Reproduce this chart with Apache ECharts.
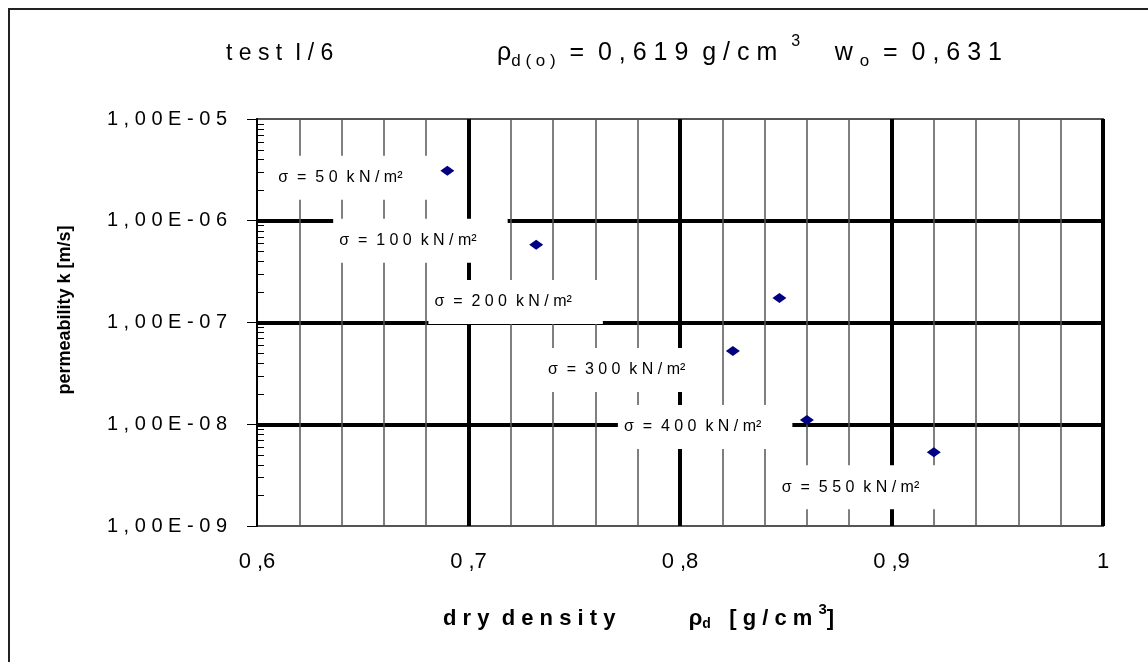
<!DOCTYPE html>
<html><head><meta charset="utf-8">
<script src="https://cdn.jsdelivr.net/npm/echarts@6/dist/echarts.min.js"></script>
<style>html,body{margin:0;padding:0;background:#fff}#c{width:1148px;height:662px}</style>
</head><body><div id="c"></div>
<script>
// ---- data ----
const xTickLabels = ['0,6', '0,7', '0,8', '0,9', '1'];
const yTickExponents = [-9, -8, -7, -6, -5];
const yTickLabels = ['1,00E-09', '1,00E-08', '1,00E-07', '1,00E-06', '1,00E-05'];
const minorMultipliers = [2, 3, 4, 5, 6, 7, 8, 9];
const dryDensity = [0.690, 0.732, 0.847, 0.825, 0.860, 0.920];
const permeability = [3.1e-6, 5.8e-7, 1.74e-7, 5.25e-8, 1.1e-8, 5.3e-9];
const stressLabels = ['σ = 50 kN/m²', 'σ = 100 kN/m²', 'σ = 200 kN/m²', 'σ = 300 kN/m²', 'σ = 400 kN/m²', 'σ = 550 kN/m²'];
const titleLeft = 'test I/6';
const yAxisName = 'permeability k [m/s]';

// ---- helpers ----
const FONT = "'Liberation Sans', Arial, sans-serif";
function spaced(s, gap) {
  gap = gap === undefined ? ' ' : gap;
  return s.split(' ').map(w => {
    const ch = Array.from(w);
    let out = '';
    ch.forEach((c, i) => { out += (i > 0 && c !== '²' ? gap : '') + c; });
    return out;
  }).join(gap + gap);
}

// label placement (layout, relative to each point)
const labelLayout = [[-175, 7], [-203, -4], [-351, 4], [-191, 19], [-189, 7], [-158, 35]];

const chart = echarts.init(document.getElementById('c'), null, { renderer: 'canvas' });

const option = {
  animation: false,
  backgroundColor: '#fff',
  textStyle: { fontFamily: FONT },
  grid: {
    left: 257, top: 119, right: 45, bottom: 136,
    show: true, backgroundColor: '#fff', borderColor: '#555', borderWidth: 2
  },
  xAxis: {
    type: 'value', min: 0.6, max: 1.0, interval: 0.1,
    axisLine: { show: false },
    axisTick: { show: false },
    minorTick: { show: false, splitNumber: 5 },
    splitLine: { show: true, showMinLine: false, showMaxLine: true, lineStyle: { color: '#000', width: 4 } },
    minorSplitLine: { show: true, lineStyle: { color: '#555', width: 1.5 } },
    axisLabel: {
      margin: 25, fontSize: 22, color: '#000', fontFamily: FONT,
      formatter: v => {
        const s = xTickLabels[Math.round((v - 0.6) / 0.1)];
        return s.length > 1 ? s.replace(',', ' ,') : s;
      }
    }
  },
  yAxis: {
    type: 'log', logBase: 10, min: 1e-9, max: 1e-5,
    axisLine: { show: true, onZero: false, lineStyle: { color: '#000', width: 2 } },
    axisTick: { show: true, inside: false, length: 10, lineStyle: { color: '#000', width: 1 } },
    splitLine: { show: true, showMinLine: false, showMaxLine: false, lineStyle: { color: '#000', width: 4 } },
    axisLabel: {
      margin: 30, fontSize: 20, color: '#000', fontFamily: FONT,
      formatter: v => spaced(yTickLabels[yTickExponents.indexOf(Math.round(Math.log10(v)))])
    }
  },
  series: [
    {
      type: 'custom',
      silent: true,
      z: 5,
      encode: { x: 0, y: 1 },
      data: yTickExponents.slice(0, -1).flatMap(e => minorMultipliers.map(m => [0.6, m * Math.pow(10, e)])),
      renderItem: (params, api) => {
        const p = api.coord([api.value(0), api.value(1)]);
        return {
          type: 'line',
          shape: { x1: p[0], y1: Math.round(p[1]) + 0.5, x2: p[0] + 7, y2: Math.round(p[1]) + 0.5 },
          style: { stroke: '#000', lineWidth: 1 }
        };
      }
    },
    {
      type: 'scatter',
      symbol: 'diamond',
      symbolSize: [14, 10],
      itemStyle: { color: '#000080', opacity: 1 },
      z: 4,
      data: dryDensity.map((x, i) => ({
        value: [x, permeability[i]],
        label: {
          show: true,
          position: 'inside',
          align: 'left',
          verticalAlign: 'middle',
          offset: labelLayout[i],
          formatter: spaced(stressLabels[i]),
          fontSize: 16,
          fontFamily: FONT,
          color: '#000',
          opacity: 1,
          backgroundColor: '#ffffff',
          padding: [15, 31, 13, 6]
        }
      }))
    }
  ],
  graphic: [
    {
      type: 'rect', silent: true, z: 100,
      shape: { x: 9, y: 9, width: 1300, height: 800 },
      style: { fill: 'none', stroke: '#222', lineWidth: 2 }
    },
    {
      type: 'text', left: 226, top: 42, z: 100,
      style: { text: spaced(titleLeft), font: '23px ' + FONT, fill: '#000' }
    },
    {
      type: 'text', left: 497, top: 34, z: 100,
      style: {
        text: '{m|ρ}{s|' + spaced('d(o)') + '}{m|  =  ' + spaced('0,619') + '  ' + spaced('g/cm') + '  }{p|3}{m|     w }{s|o}{m|  =  ' + spaced('0,631') + '}',
        fill: '#000',
        rich: {
          m: { fontSize: 25, fontFamily: FONT, lineHeight: 36, verticalAlign: 'bottom', padding: [0, 0, 4, 0] },
          s: { fontSize: 17, fontFamily: FONT, lineHeight: 36, verticalAlign: 'bottom', padding: [0, 0, 0, 0] },
          p: { fontSize: 16, fontFamily: FONT, lineHeight: 36, verticalAlign: 'top', padding: [0, 0, 0, 0] }
        }
      }
    },
    {
      type: 'text', z: 100,
      x: 65, y: 310, rotation: Math.PI / 2,
      style: { text: yAxisName, font: 'bold 18px ' + FONT, fill: '#000', align: 'center', verticalAlign: 'middle' }
    },
    {
      type: 'text', left: 443, top: 600, z: 100,
      style: {
        text: '{b|' + spaced('dry density') + '}{b|            }{b|ρ}{s|d}{b|   ' + spaced('[g/cm') + ' }{p|3}{b|]}',
        fill: '#000',
        rich: {
          b: { fontSize: 22, fontWeight: 'bold', fontFamily: FONT, lineHeight: 34, verticalAlign: 'bottom', padding: [0, 0, 4, 0] },
          s: { fontSize: 14, fontWeight: 'bold', fontFamily: FONT, lineHeight: 34, verticalAlign: 'bottom', padding: [0, 0, 3, 0] },
          p: { fontSize: 15, fontWeight: 'bold', fontFamily: FONT, lineHeight: 34, verticalAlign: 'top', padding: [2, 0, 0, 0] }
        }
      }
    }
  ]
};
chart.setOption(option);
</script>
</body></html>
